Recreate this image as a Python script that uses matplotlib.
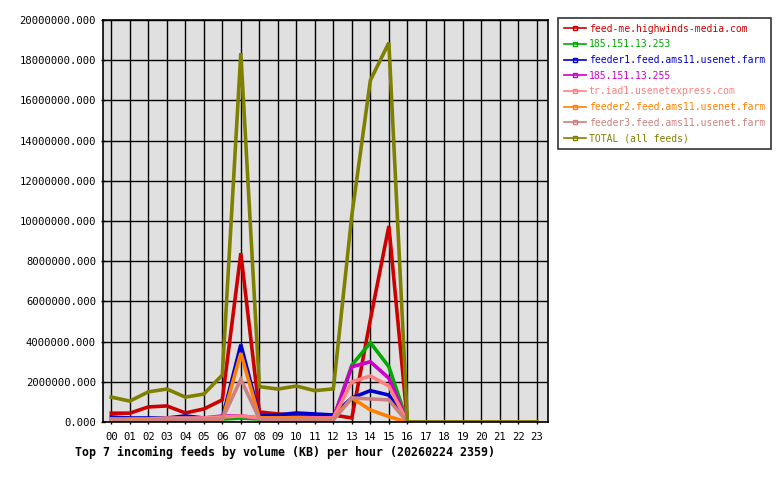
import matplotlib
matplotlib.use('Agg')
import matplotlib.pyplot as plt
from matplotlib.lines import Line2D

hours = ['%02d' % h for h in range(24)]

feed_names = [
    'feed-me.highwinds-media.com',
    '185.151.13.253',
    'feeder1.feed.ams11.usenet.farm',
    '185.151.13.255',
    'tr.iad1.usenetexpress.com',
    'feeder2.feed.ams11.usenet.farm',
    'feeder3.feed.ams11.usenet.farm',
    'TOTAL (all feeds)',
]
feed_colors = ['#cc0000', '#00aa00', '#0000cc', '#cc00cc',
               '#ff8080', '#ff8000', '#cc8080', '#808000']

# KB per hour
highwinds = [440000, 440000, 750000, 800000, 450000, 650000, 1100000, 8400000,
             500000, 400000, 350000, 350000, 350000, 200000, 5100000, 9750000,
             0, 0, 0, 0, 0, 0, 0, 0]
ip_253 = [100000, 100000, 100000, 100000, 100000, 100000, 150000, 200000,
          150000, 150000, 150000, 150000, 150000, 2830000, 3950000, 2750000,
          0, 0, 0, 0, 0, 0, 0, 0]
feeder1 = [250000, 200000, 200000, 200000, 300000, 200000, 200000, 3850000,
           300000, 350000, 450000, 400000, 350000, 1200000, 1560000, 1340000,
           0, 0, 0, 0, 0, 0, 0, 0]
ip_255 = [100000, 100000, 100000, 150000, 150000, 200000, 300000, 300000,
          200000, 150000, 150000, 200000, 200000, 2750000, 3000000, 2180000,
          0, 0, 0, 0, 0, 0, 0, 0]
usenetexpress = [150000, 150000, 150000, 200000, 200000, 200000, 250000, 300000,
                 200000, 200000, 200000, 200000, 200000, 2000000, 2290000, 1790000,
                 0, 0, 0, 0, 0, 0, 0, 0]
feeder2 = [100000, 100000, 100000, 100000, 100000, 50000, 100000, 3430000,
           200000, 200000, 200000, 150000, 150000, 1200000, 600000, 270000,
           0, 0, 0, 0, 0, 0, 0, 0]
feeder3 = [150000, 80000, 80000, 150000, 100000, 150000, 150000, 2130000,
           150000, 100000, 100000, 100000, 100000, 1200000, 1150000, 1100000,
           0, 0, 0, 0, 0, 0, 0, 0]
total = [1240000, 1040000, 1500000, 1640000, 1240000, 1390000, 2340000, 18350000,
         1760000, 1640000, 1790000, 1560000, 1650000, 10300000, 17000000, 18870000,
         0, 0, 0, 0, 0, 0, 0, 0]

series = [highwinds, ip_253, feeder1, ip_255, usenetexpress, feeder2, feeder3, total]

plt.rcParams['font.family'] = ['DejaVu Sans Mono']

fig = plt.figure(figsize=(7.8, 4.8), dpi=100)
ax = fig.add_axes([0.132, 0.1208, 0.5706, 0.8375])
ax.set_facecolor('#e0e0e0')

x = list(range(24))
for vals, col in zip(series, feed_colors):
    ax.plot(x, vals, color=col, lw=2.6, solid_joinstyle='miter')

ax.set_xlim(-0.45, 23.6)
ax.set_ylim(0, 20000000)
ax.set_xticks(x)
ax.set_xticklabels(hours)
ax.set_yticks(range(0, 20000001, 2000000))
ax.set_yticklabels(['%.3f' % v for v in range(0, 20000001, 2000000)])
ax.grid(True, color='black', lw=1.0)
ax.set_axisbelow(True)
ax.tick_params(axis='both', labelsize=7.6, colors='black', length=3,
               direction='inout', width=1)
ax.tick_params(axis='x', pad=6)
for s in ax.spines.values():
    s.set_color('black')
    s.set_linewidth(1.2)

fig.text(0.096, 0.058, 'Top 7 incoming feeds by volume (KB) per hour (20260224 2359)',
         fontsize=8.35, fontweight='bold', ha='left', va='center')

handles = [Line2D([0], [0], color=c, lw=1.2, marker='s', markersize=3,
                  markerfacecolor='none', markeredgecolor=c) for c in feed_colors]
leg = fig.legend(handles, feed_names, loc='upper left',
                 bbox_to_anchor=(0.716, 0.9625), fontsize=7.0, frameon=True,
                 fancybox=False, edgecolor='black', handlelength=2.2,
                 handletextpad=0.3, labelspacing=0.58, borderpad=0.6,
                 numpoints=1, borderaxespad=0)
leg.get_frame().set_linewidth(1.2)
for t, c in zip(leg.get_texts(), feed_colors):
    t.set_color(c)

fig.savefig('out.png', dpi=100)
